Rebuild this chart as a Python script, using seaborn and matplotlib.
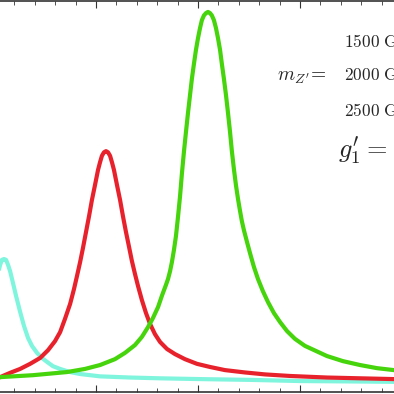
import numpy as np
import pandas as pd
import seaborn as sns
import matplotlib.pyplot as plt
from matplotlib.ticker import MultipleLocator

# Z' invariant mass lineshapes (arbitrary units)
mass_1500 = [1334, 1373, 1412, 1441, 1471, 1490, 1510, 1520, 1530, 1539,
             1549, 1559, 1569, 1579, 1593, 1608, 1628, 1647, 1667, 1686,
             1711, 1735, 1760, 1789, 1824, 1873, 1922, 2020, 2167, 2314,
             2510, 2755, 3000, 3245, 3460, 3637]
xsec_1500 = [0.041, 0.056, 0.087, 0.125, 0.184, 0.230, 0.279, 0.304, 0.325, 0.338,
             0.340, 0.338, 0.325, 0.309, 0.279, 0.246, 0.205, 0.169, 0.138, 0.118,
             0.100, 0.087, 0.077, 0.066, 0.059, 0.051, 0.046, 0.040, 0.037, 0.035,
             0.033, 0.031, 0.028, 0.027, 0.026, 0.024]

mass_2000 = [1334, 1432, 1530, 1579, 1628, 1677, 1726, 1765, 1799, 1824,
             1848, 1873, 1892, 1907, 1922, 1936, 1951, 1966, 1980, 1995,
             2010, 2020, 2029, 2039, 2049, 2059, 2069, 2078, 2088, 2103,
             2118, 2132, 2147, 2162, 2176, 2191, 2206, 2225, 2245, 2265,
             2289, 2314, 2348, 2387, 2436, 2495, 2559, 2632, 2730, 2828,
             2951, 3132, 3460, 3637]
xsec_2000 = [0.023, 0.028, 0.038, 0.049, 0.059, 0.072, 0.087, 0.107, 0.130, 0.153,
             0.187, 0.225, 0.263, 0.297, 0.332, 0.368, 0.409, 0.450, 0.491, 0.529,
             0.568, 0.588, 0.604, 0.613, 0.616, 0.613, 0.604, 0.588, 0.568, 0.529,
             0.491, 0.450, 0.409, 0.371, 0.335, 0.302, 0.271, 0.235, 0.202, 0.174,
             0.148, 0.128, 0.110, 0.097, 0.084, 0.072, 0.064, 0.056, 0.050, 0.045,
             0.041, 0.037, 0.033, 0.032]

mass_2500 = [1334, 1530, 1691, 1858, 1946, 2020, 2093, 2142, 2191, 2225,
             2255, 2279, 2304, 2323, 2343, 2353, 2363, 2372, 2382, 2392,
             2402, 2412, 2421, 2431, 2441, 2451, 2461, 2470, 2480, 2490,
             2500, 2510, 2519, 2529, 2539, 2549, 2559, 2568, 2578, 2588,
             2598, 2608, 2617, 2627, 2637, 2647, 2657, 2666, 2676, 2686,
             2696, 2706, 2715, 2725, 2740, 2755, 2774, 2794, 2818, 2843,
             2872, 2902, 2936, 2975, 3024, 3078, 3132, 3210, 3294, 3377,
             3460, 3637]
xsec_2500 = [0.031, 0.038, 0.043, 0.051, 0.059, 0.069, 0.084, 0.100, 0.120, 0.141,
             0.166, 0.189, 0.217, 0.246, 0.274, 0.289, 0.309, 0.332, 0.363, 0.399,
             0.448, 0.501, 0.558, 0.614, 0.665, 0.714, 0.760, 0.801, 0.839, 0.875,
             0.905, 0.931, 0.951, 0.963, 0.969, 0.972, 0.969, 0.963, 0.951, 0.931,
             0.905, 0.875, 0.839, 0.801, 0.760, 0.714, 0.665, 0.616, 0.570, 0.529,
             0.494, 0.463, 0.437, 0.414, 0.384, 0.355, 0.320, 0.289, 0.258, 0.230,
             0.202, 0.179, 0.156, 0.136, 0.118, 0.105, 0.092, 0.079, 0.069, 0.061,
             0.056, 0.049]

labels = ["1500 GeV", "2000 GeV", "2500 GeV"]
colors = ["#7ff5de", "#e8222c", "#46d40c"]

df = pd.concat([
    pd.DataFrame({"mass": mass_1500, "xsec": xsec_1500, "mzp": labels[0]}),
    pd.DataFrame({"mass": mass_2000, "xsec": xsec_2000, "mzp": labels[1]}),
    pd.DataFrame({"mass": mass_2500, "xsec": xsec_2500, "mzp": labels[2]}),
])

sns.set_style("white")
plt.rcParams["mathtext.fontset"] = "cm"
plt.rcParams["font.family"] = ["DejaVu Serif"]

fig = plt.figure(figsize=(3.94, 3.94), dpi=100)
# the picture is a crop: the axes run past the left and right edges
ax = fig.add_axes([-0.1188, 0.00508, 1.2427, 0.9924])

sns.lineplot(data=df, x="mass", y="xsec", hue="mzp", palette=colors, linewidth=3,
             legend=False, ax=ax)
for line in ax.lines:
    line.set_solid_joinstyle("round")
    line.set_solid_capstyle("round")

ax.set_xlim(1300, 3700)
ax.set_ylim(0, 1)
ax.set_xlabel("")
ax.set_ylabel("")
ax.xaxis.set_major_locator(MultipleLocator(500))
ax.xaxis.set_minor_locator(MultipleLocator(100))
ax.tick_params(axis="x", which="both", direction="in", top=True, bottom=True,
               labelbottom=False, color="#333333")
ax.tick_params(axis="x", which="major", length=5, width=0.8)
ax.tick_params(axis="x", which="minor", length=3, width=0.6)
ax.tick_params(axis="y", left=False, labelleft=False)
for s in ax.spines.values():
    s.set_color("#333333")
    s.set_linewidth(1.2)

def fy(ypix):
    return (394 - ypix) / 394

fig.text(277 / 394, fy(77), r"$m_{Z'}\!=$", fontsize=14, va="center", ha="left")
fig.text(344 / 394, fy(47), r"$\mathrm{1500\ GeV}$", fontsize=12.5, va="baseline", ha="left")
fig.text(344 / 394, fy(80), r"$\mathrm{2000\ GeV}$", fontsize=12.5, va="baseline", ha="left")
fig.text(344 / 394, fy(116), r"$\mathrm{2500\ GeV}$", fontsize=12.5, va="baseline", ha="left")
fig.text(338 / 394, fy(158), r"$g_1'=$", fontsize=19, va="baseline", ha="left")

fig.savefig("out.png", dpi=100)
